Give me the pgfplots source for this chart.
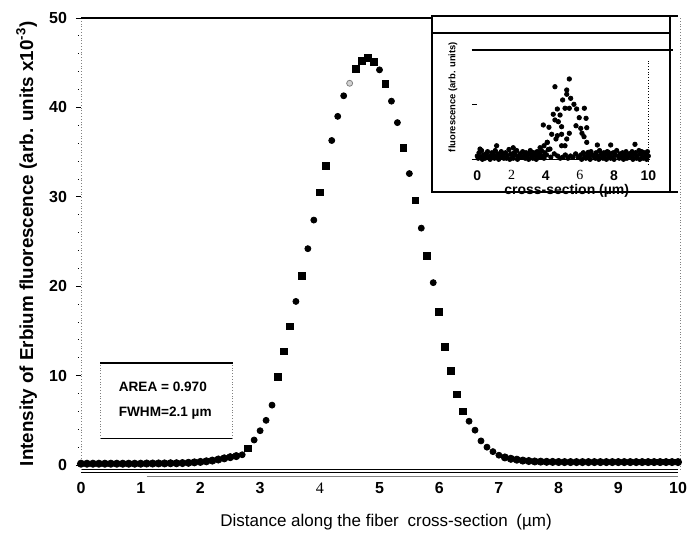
\documentclass[border=0pt]{standalone}
\usepackage{fontspec}
\setmainfont{Liberation Sans}
\newfontfamily\serifdigit{Liberation Serif}
\usepackage{pgfplots}
\pgfplotsset{compat=1.18}

% main profile: x, intensity (x10^-3), marker class
\pgfplotstableread{
x y c
0.0 0.15 t
0.1 0.15 t
0.2 0.15 t
0.3 0.15 t
0.4 0.15 t
0.5 0.15 t
0.6 0.15 t
0.7 0.15 t
0.8 0.15 t
0.9 0.15 t
1.0 0.15 t
1.1 0.17 t
1.2 0.17 t
1.3 0.18 t
1.4 0.18 t
1.5 0.20 t
1.6 0.20 t
1.7 0.22 t
1.8 0.25 t
1.9 0.30 t
2.0 0.35 t
2.1 0.42 t
2.2 0.50 t
2.3 0.62 t
2.4 0.75 t
2.5 0.88 t
2.6 1.00 t
2.7 1.15 c
2.8 1.87 s
2.9 2.80 c
3.0 3.84 c
3.1 5.00 c
3.2 6.70 c
3.3 9.90 s
3.4 12.7 s
3.5 15.5 s
3.6 18.3 c
3.7 21.2 s
3.8 24.2 c
3.9 27.4 c
4.0 30.5 s
4.1 33.5 s
4.2 36.3 c
4.3 39.0 c
4.4 41.3 c
4.6 44.3 s
4.7 45.2 s
4.8 45.5 s
4.9 45.1 s
5.0 44.2 c
5.1 42.6 s
5.2 40.7 c
5.3 38.3 c
5.4 35.5 s
5.5 32.6 c
5.6 29.6 s
5.7 26.5 c
5.8 23.4 s
5.9 20.4 c
6.0 17.1 s
6.1 13.2 s
6.2 10.5 s
6.3 7.90 s
6.4 6.00 s
6.5 4.90 c
6.6 3.90 c
6.7 2.70 c
6.8 2.00 c
6.9 1.50 c
7.0 1.10 c
7.1 0.85 t
7.2 0.70 t
7.3 0.60 t
7.4 0.50 t
7.5 0.45 t
7.6 0.40 t
7.7 0.38 t
7.8 0.36 t
7.9 0.35 t
8.0 0.34 t
8.1 0.33 t
8.2 0.33 t
8.3 0.33 t
8.4 0.33 t
8.5 0.33 t
8.6 0.33 t
8.7 0.33 t
8.8 0.33 t
8.9 0.33 t
9.0 0.33 t
9.1 0.33 t
9.2 0.33 t
9.3 0.33 t
9.4 0.33 t
9.5 0.33 t
9.6 0.33 t
9.7 0.33 t
9.8 0.33 t
9.9 0.33 t
10.0 0.33 t
}\profile

% inset: raw scan across the section
\pgfplotstableread{
x y
0.00 0.03
0.10 0.06
0.20 0.02
0.25 0.08
0.35 0.04
0.45 0.01
0.50 0.05
0.60 0.07
0.70 0.03
0.80 0.02
0.85 0.06
0.95 0.04
1.05 0.08
1.15 0.02
1.20 0.05
1.30 0.03
1.40 0.07
1.50 0.04
1.55 0.01
1.65 0.06
1.75 0.03
1.85 0.09
1.95 0.05
2.05 0.02
2.15 0.06
2.20 0.04
2.30 0.08
2.40 0.03
2.50 0.05
2.60 0.02
2.65 0.07
2.75 0.04
2.85 0.06
2.95 0.02
3.05 0.05
3.10 0.08
3.20 0.03
3.30 0.06
3.40 0.04
3.50 0.07
3.55 0.02
3.65 0.05
3.75 0.08
3.80 0.03
3.95 0.06
4.05 0.04
4.15 0.09
4.30 0.02
4.50 0.05
4.70 0.03
4.85 0.01
5.00 0.02
5.15 0.04
5.30 0.01
5.45 0.03
5.60 0.02
5.75 0.05
5.90 0.02
6.05 0.04
6.20 0.06
6.30 0.02
6.45 0.05
6.55 0.03
6.65 0.07
6.75 0.04
6.85 0.02
6.95 0.06
7.05 0.03
7.15 0.08
7.25 0.05
7.30 0.02
7.40 0.06
7.50 0.04
7.60 0.07
7.70 0.03
7.75 0.05
7.85 0.02
7.95 0.06
8.05 0.04
8.15 0.08
8.25 0.03
8.35 0.05
8.45 0.02
8.50 0.06
8.60 0.04
8.70 0.07
8.80 0.03
8.90 0.05
9.00 0.02
9.05 0.07
9.15 0.04
9.25 0.06
9.35 0.03
9.45 0.08
9.55 0.05
9.65 0.02
9.75 0.06
9.85 0.04
9.95 0.07
10.0 0.03
0.05 0.01
0.30 0.00
0.55 0.02
0.75 0.00
1.00 0.01
1.25 0.00
1.45 0.02
1.70 0.01
1.90 0.00
2.10 0.01
2.35 0.00
2.55 0.02
2.80 0.01
3.00 0.00
3.25 0.01
3.45 0.00
3.70 0.02
3.90 0.01
6.10 0.00
6.35 0.01
6.60 0.00
6.90 0.01
7.10 0.00
7.35 0.01
7.55 0.00
7.80 0.01
8.00 0.00
8.30 0.01
8.55 0.00
8.75 0.01
9.10 0.00
9.30 0.01
9.50 0.00
9.70 0.01
9.90 0.00
0.16 0.094
1.13 0.124
2.10 0.106
3.67 0.106
3.90 0.124
4.25 0.094
4.09 0.155
6.49 0.064
7.02 0.131
7.66 0.064
7.80 0.131
9.22 0.137
9.61 0.070
5.38 0.735
4.54 0.664
5.23 0.634
5.23 0.595
4.99 0.543
5.46 0.558
5.65 0.503
5.13 0.467
5.38 0.467
5.81 0.460
6.26 0.467
4.68 0.460
4.44 0.412
4.84 0.405
4.54 0.360
5.96 0.381
6.36 0.375
4.74 0.344
4.93 0.298
3.86 0.314
4.19 0.293
5.77 0.307
6.05 0.283
6.40 0.289
4.35 0.229
4.68 0.216
4.93 0.229
5.38 0.238
6.12 0.238
6.24 0.207
4.60 0.186
5.23 0.186
4.09 0.155
6.40 0.155
4.93 0.124
5.13 0.124
}\inset

\begin{document}
\begin{tikzpicture}
\path[use as bounding box] (-40.5pt,-33.75pt) rectangle (309.5pt,234.75pt);
\begin{axis}[
    at={(0pt,0pt)}, anchor=south west,
    scale only axis, width=298.5pt, height=225.75pt,
    xmin=0, xmax=10, ymin=-0.5, ymax=50,
    clip=false,
    axis line style={draw=none},
    xtick={0,...,10},
    xticklabels={0,1,2,3,{\serifdigit\mdseries 4},5,6,7,8,9,10},
    ytick={0,10,...,50},
    minor y tick num=4,
    xtick pos=bottom, ytick pos=left,
    tick align=outside,
    xtick style={draw=none},
    major tick length=2.5pt, minor tick length=1.5pt,
    ytick style={black, line width=0.5pt},
    minor y tick style={densely dotted, line width=0.4pt},
    ticklabel style={font=\fontsize{8}{9}\selectfont\bfseries},
    xticklabel style={yshift=-0.5pt},
    yticklabel style={xshift=-1pt},
    /pgf/number format/assume math mode=true,
    xlabel={Distance along the fiber\hspace{2pt} cross-section\hspace{2pt} (µm)},
    xlabel style={font=\fontsize{8.5}{9}\selectfont, at={(axis description cs:0.511,0)}, anchor=center, yshift=-26.25pt},
    ylabel={Intensity of Erbium fluorescence (arb. units x10\textsuperscript{-3})},
    ylabel style={font=\fontsize{9.4}{10}\selectfont\bfseries, at={([xshift=-27.2pt]axis description cs:0,0.5)}, anchor=center},
  ]
  \addplot[scatter, only marks, scatter src=explicit symbolic,
    scatter/classes={
      s={mark=square*, mark size=1.7pt, draw=black, fill=black},
      c={mark=*, mark size=1.5pt, draw=black, fill=black},
      t={mark=*, mark size=1.8pt, draw=black, fill=black}}]
    table[x=x, y=y, meta=c] {\profile};
  \addplot[only marks, mark=*, mark size=1.5pt, draw=gray, fill=gray!35]
    coordinates {(4.5,42.7)};
  % scanned frame
  \draw[line width=0.9pt] (rel axis cs:0,0) -- (rel axis cs:1,0);
  \draw[line width=0.6pt] ([yshift=-1.5pt]rel axis cs:0,0) -- ([yshift=-1.5pt]rel axis cs:1,0);
  \draw[line width=0.5pt, gray] ([yshift=-3.3pt]axis cs:1.1,-0.5) -- ([yshift=-3.3pt]rel axis cs:1,0);
  \draw[densely dotted, gray] (rel axis cs:0,0) -- (rel axis cs:0,1);
  \draw[densely dotted, gray] ([xshift=1pt]rel axis cs:1,0) -- ([xshift=1pt]rel axis cs:1,1);
  \draw[line width=0.6pt] (rel axis cs:0,1) -- (axis cs:5.88,50);
\end{axis}

% inset frame
\draw[line width=1pt] (175.5pt,138.75pt) rectangle (294.5pt,226.75pt);
\draw[line width=1pt] (175.5pt,218.25pt) -- (294.5pt,218.25pt);
\draw[line width=0.6pt] (294.5pt,226.75pt) -- (298.5pt,226.75pt);
\draw[line width=0.6pt] (294.5pt,138.75pt) -- (298.5pt,138.75pt);

% annotation box
\draw[line width=0.9pt] (9.5pt,53.1pt) -- (75.85pt,53.1pt);
\draw[line width=0.5pt] (9.5pt,15.6pt) -- (75.85pt,15.6pt);
\draw[densely dotted, gray] (9.5pt,15.6pt) -- (9.5pt,53.1pt);
\draw[densely dotted, gray] (75.85pt,15.6pt) -- (75.85pt,53.1pt);
\node[anchor=west, inner sep=0pt, font=\fontsize{6.8}{7}\selectfont\bfseries] at (18.7pt,41.4pt) {AREA = 0.970};
\node[anchor=west, inner sep=0pt, font=\fontsize{6.8}{7}\selectfont\bfseries] at (18.7pt,28.4pt) {FWHM=2.1 µm};

\begin{axis}[
    at={(198.15pt,155.1pt)}, anchor=south west,
    scale only axis, width=85.5pt, height=54.65pt,
    xmin=0, xmax=10, ymin=0, ymax=1,
    clip=false,
    axis line style={draw=none},
    xtick={0,2,...,10},
    xticklabels={0,{\serifdigit\mdseries 2},4,{\serifdigit\mdseries 6},8,10},
    ytick=\empty,
    xtick style={draw=none},
    ticklabel style={font=\fontsize{7}{8}\selectfont\bfseries},
    xticklabel style={yshift=-2pt},
  ]
  \addplot[only marks, mark=*, mark size=1.1pt, black] table[x=x, y=y] {\inset};
  \draw[line width=0.8pt] (axis cs:-0.33,0) -- (axis cs:10.1,0);
  \draw[line width=0.6pt] (axis cs:-0.33,1) -- (axis cs:11.44,1);
  \draw[densely dotted] (axis cs:10,-0.05) -- (axis cs:10,0.9);
  \draw[line width=0.5pt] (axis cs:-0.3,0.5) -- (axis cs:0,0.5);
\end{axis}
\node[rotate=90, font=\fontsize{4.7}{5}\selectfont\bfseries] at (186pt,186.25pt) {fluorescence (arb. units)};
\node[font=\fontsize{7}{8}\selectfont\bfseries] at (242.85pt,139.3pt) {cross-section (µm)};
\end{tikzpicture}
\end{document}
